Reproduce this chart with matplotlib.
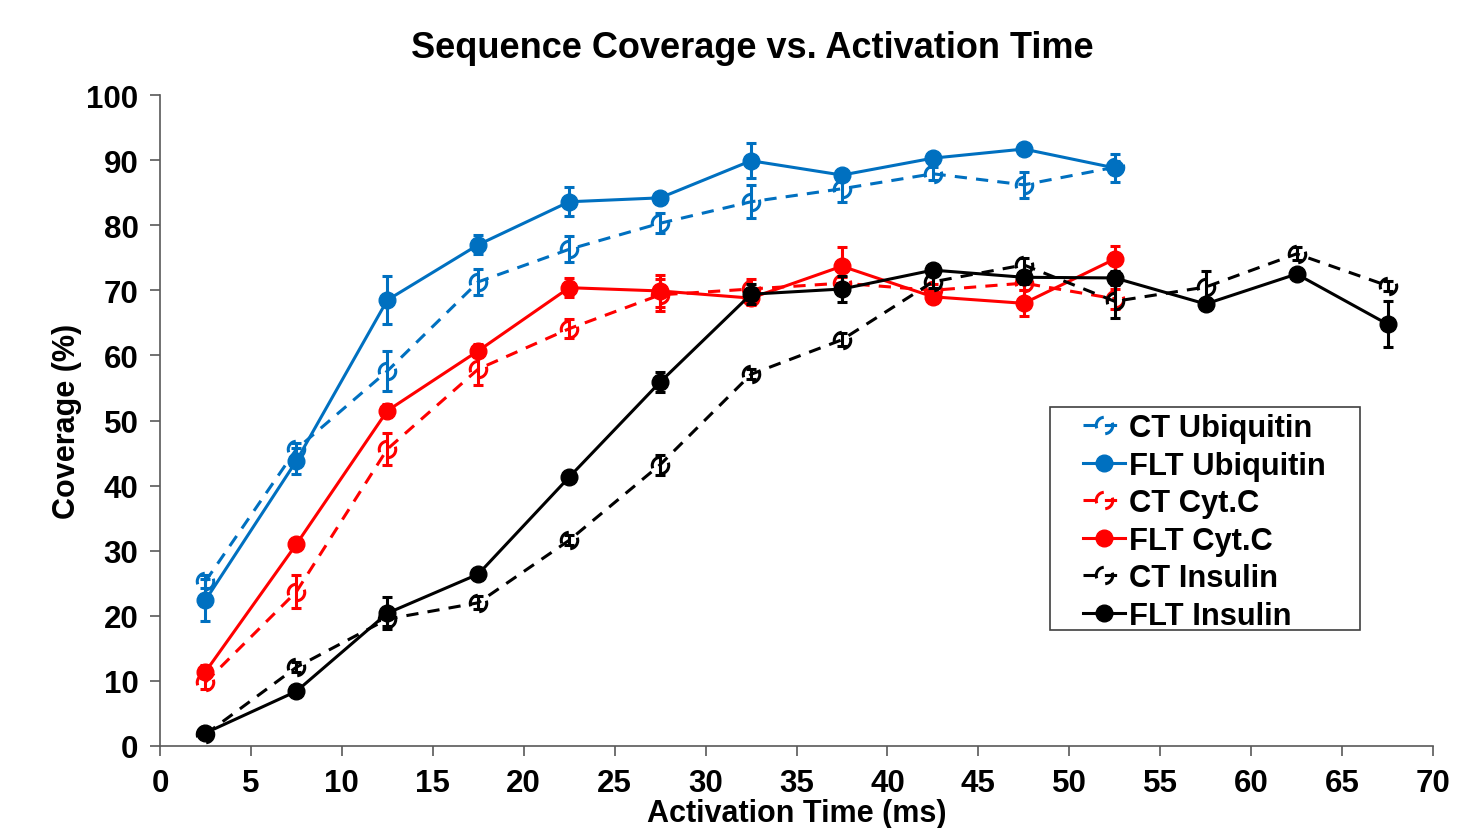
import matplotlib
matplotlib.use("Agg")
import matplotlib.pyplot as plt
from matplotlib.path import Path
from matplotlib.lines import Line2D
from matplotlib.patches import Rectangle

plt.rcParams["font.family"] = ["Liberation Sans", "DejaVu Sans"]
plt.rcParams["font.weight"] = "bold"

time_ms = [2.5, 7.5, 12.5, 17.5, 22.5, 27.5, 32.5, 37.5, 42.5, 47.5, 52.5, 57.5, 62.5, 67.5]

ct_ubq = [25.3, 45.6, 57.6, 71.3, 76.3, 80.3, 83.6, 85.6, 87.9, 86.2, 88.9]
ct_ubq_err = [1.0, 1.0, 3.0, 2.0, 2.0, 1.5, 2.5, 2.0, 1.0, 2.0, 1.0]
flt_ubq = [22.4, 43.8, 68.5, 77.0, 83.6, 84.2, 89.9, 87.7, 90.3, 91.7, 88.8]
flt_ubq_err = [3.2, 2.0, 3.7, 1.5, 2.2, 0.5, 2.7, 0.5, 0.5, 0.8, 2.2]

ct_cytc = [9.8, 23.7, 45.6, 57.9, 64.1, 69.3, 70.2, 71.1, 70.0, 71.1, 68.7]
ct_cytc_err = [1.0, 2.5, 2.5, 2.5, 1.5, 2.5, 1.5, 1.0, 1.0, 1.0, 1.5]
flt_cytc = [11.4, 31.0, 51.5, 60.7, 70.4, 69.9, 68.8, 73.7, 69.0, 68.0, 74.8]
flt_cytc_err = [1.0, 0.8, 1.0, 1.0, 1.5, 2.5, 1.0, 3.0, 1.0, 2.0, 2.0]

ct_ins = [1.8, 12.1, 19.5, 22.0, 31.6, 43.2, 57.1, 62.4, 71.3, 73.9, 68.3, 70.5, 75.6, 70.7]
ct_ins_err = [0.5, 0.8, 1.0, 1.0, 0.8, 1.5, 0.8, 1.0, 1.0, 1.0, 2.5, 2.5, 1.0, 0.8]
flt_ins = [2.0, 8.4, 20.4, 26.4, 41.3, 55.9, 69.4, 70.2, 73.1, 72.0, 71.9, 67.9, 72.5, 64.8]
flt_ins_err = [0.5, 0.5, 2.5, 0.5, 0.5, 1.5, 1.5, 2.0, 0.5, 1.0, 1.0, 0.5, 0.5, 3.5]

BLUE = "#0070C0"
RED = "#FF0000"
BLACK = "#000000"
AXIS_GRAY = "#595959"

# dashed circle outline -> two open arcs
ct_marker = Path.make_compound_path(Path.arc(95, 200), Path.arc(275, 380))

W, H = 1457, 829
fig = plt.figure(figsize=(W / 100, H / 100), dpi=100)
ax = fig.add_axes([160 / W, 1 - 747 / H, (1433 - 160) / W, (747 - 96) / H])

series = [
    ("CT Ubiquitin", ct_ubq, ct_ubq_err, BLUE, True),
    ("FLT Ubiquitin", flt_ubq, flt_ubq_err, BLUE, False),
    ("CT Cyt.C", ct_cytc, ct_cytc_err, RED, True),
    ("FLT Cyt.C", flt_cytc, flt_cytc_err, RED, False),
    ("CT Insulin", ct_ins, ct_ins_err, BLACK, True),
    ("FLT Insulin", flt_ins, flt_ins_err, BLACK, False),
]

handles = []
for i, (label, vals, err, color, dashed) in enumerate(series):
    xs = time_ms[:len(vals)]
    if dashed:
        style = dict(linestyle=(0, (4, 3)), marker=ct_marker, markersize=12,
                     markerfacecolor="none", markeredgewidth=2.2, markeredgecolor=color)
    else:
        style = dict(linestyle="-", marker="o", markersize=12,
                     markerfacecolor=color, markeredgecolor=color)
    ax.errorbar(xs, vals, yerr=err, color=color, linewidth=2.2, ecolor=color,
                elinewidth=2.2, capsize=3.5, capthick=2.2, zorder=2 + i, **style)
    handles.append(Line2D([], [], color=color, linewidth=2.2, label=label, **style))

ax.set_xlim(0, 70)
ax.set_ylim(0, 100)
ax.set_xticks(range(0, 71, 5))
ax.set_yticks(range(0, 101, 10))
ax.spines["top"].set_visible(False)
ax.spines["right"].set_visible(False)
for s in ("left", "bottom"):
    ax.spines[s].set_color(AXIS_GRAY)
    ax.spines[s].set_linewidth(1.2)
ax.tick_params(axis="both", direction="out", length=7.5, width=1.2, color=AXIS_GRAY,
               labelsize=22.5, pad=8)
for lbl in ax.get_xticklabels() + ax.get_yticklabels():
    lbl.set_fontweight("bold")

fig.text(752 / W, 1 - 48 / H, "Sequence Coverage vs. Activation Time",
         fontsize=26, fontweight="bold", ha="center", va="center")
ax.set_xlabel("Activation Time (ms)", fontsize=22, fontweight="bold", labelpad=0)
ax.set_ylabel("Coverage (%)", fontsize=22, fontweight="bold", labelpad=3)

# legend box
fig.add_artist(Rectangle((1050 / W, 1 - 631 / H), 310 / W, 223 / H,
                         transform=fig.transFigure, facecolor="white",
                         edgecolor="#404040", linewidth=1.2, zorder=20))
leg = fig.legend(handles=handles, loc="upper left",
                 bbox_to_anchor=(1083 / W, 1 - 414 / H),
                 fontsize=22.2, frameon=False, handlelength=1.35,
                 handletextpad=0.15, borderpad=0.0, labelspacing=0.245, borderaxespad=0)
leg.set_zorder(21)
for t in leg.get_texts():
    t.set_fontweight("bold")

fig.savefig("out.png", dpi=100)
